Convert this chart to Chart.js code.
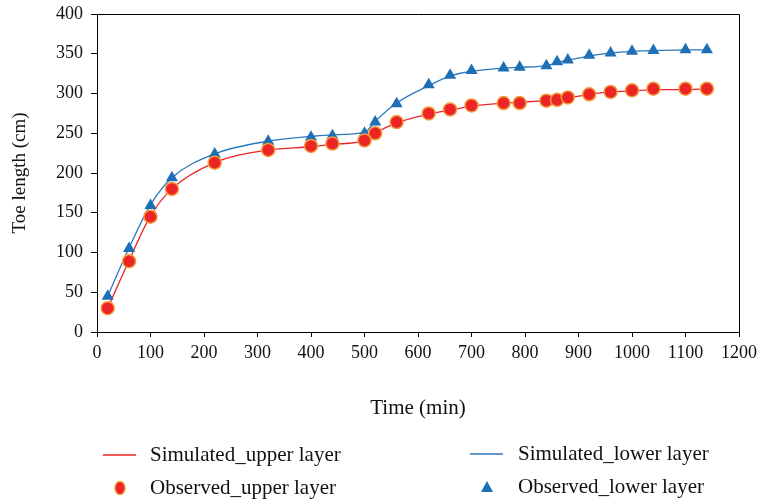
<!DOCTYPE html>
<html><head><meta charset="utf-8">
<script src="https://cdn.jsdelivr.net/npm/chart.js@4"></script>
<style>html,body{margin:0;padding:0;background:#fff}#wrap{width:762px;height:502px;position:relative}</style>
</head><body><div id="wrap"><canvas id="c" width="762" height="502" style="width:762px;height:502px"></canvas></div>
<script>
// ---- data ----
const timeMin = [20,60,100,140,220,320,400,440,500,520,560,620,660,700,760,790,840,860,880,920,960,1000,1040,1100,1140];
const observedUpper = [30,89,145,180,213,229,234,237,241,250,264,275,280,285,288,288,291,292,295,299,302,304,306,306,306];
const simulatedUpper = [30,90,146,180,213,229,233,236,241,250,263,274,279,284,288,289,291,292,294,299,302,303,305,305,306];
const observedLower = [45,105,159,194,224,240,245,247,250,264,287,311,323,329,332,333,335,340,342,348,351,353,354,355,355];
const simulatedLower = [45,106,160,194,224,240,246,248,251,265,288,310,322,328,332,333,335,339,342,347,351,353,354,355,355];
const xTicks = [0,100,200,300,400,500,600,700,800,900,1000,1100,1200];
const yTicks = [0,50,100,150,200,250,300,350,400];
const labels = ['Simulated_upper layer','Observed_upper layer','Simulated_lower layer','Observed_lower layer'];

const RED = '#ec2426', ORANGE = '#f39a3a', BLUE = '#1f6fb6', BLUE_LINE = '#2a78c0';
const FONT = "'Liberation Serif', 'DejaVu Serif', serif";
const pts = (xs, ys) => xs.map((x, i) => ({x, y: ys[i]}));

const frameAndLegend = {
  id: 'frameAndLegend',
  afterDraw(chart) {
    const {ctx, chartArea: a} = chart;
    ctx.save();
    ctx.strokeStyle = '#000'; ctx.lineWidth = 1;
    ctx.beginPath();
    ctx.moveTo(Math.round(a.left) + 0.5, Math.round(a.top) + 0.5);
    ctx.lineTo(Math.round(a.right) + 0.5, Math.round(a.top) + 0.5);
    ctx.lineTo(Math.round(a.right) + 0.5, Math.round(a.bottom) + 0.5);
    ctx.stroke();
    // legend
    const ds = chart.data.datasets;
    ctx.font = "21px " + FONT;
    ctx.textBaseline = 'middle';
    const items = [
      {d: ds[0], kind: 'line', x0: 103, y: 455, tx: 150},
      {d: ds[2], kind: 'line', x0: 470, y: 454, tx: 518},
      {d: ds[1], kind: 'circle', x0: 120, y: 488, tx: 150},
      {d: ds[3], kind: 'tri', x0: 487, y: 487, tx: 518}
    ];
    items.forEach(it => {
      if (it.kind === 'line') {
        ctx.strokeStyle = it.d.borderColor; ctx.lineWidth = 1.3;
        ctx.beginPath(); ctx.moveTo(it.x0, it.y); ctx.lineTo(it.x0 + 33, it.y); ctx.stroke();
      } else if (it.kind === 'circle') {
        ctx.fillStyle = it.d.backgroundColor; ctx.strokeStyle = it.d.borderColor; ctx.lineWidth = 1.5;
        ctx.beginPath(); ctx.ellipse(it.x0, it.y, 5, 6.5, 0, 0, Math.PI * 2); ctx.fill(); ctx.stroke();
      } else {
        ctx.fillStyle = it.d.backgroundColor;
        ctx.beginPath(); ctx.moveTo(it.x0, it.y - 6); ctx.lineTo(it.x0 + 6, it.y + 5); ctx.lineTo(it.x0 - 6, it.y + 5); ctx.closePath(); ctx.fill();
      }
      ctx.fillStyle = '#111';
      ctx.fillText(it.d.label, it.tx, it.y);
    });
    ctx.restore();
  }
};

new Chart(document.getElementById('c'), {
  type: 'scatter',
  data: {
    datasets: [
      {label: labels[0], type: 'line', data: pts(timeMin, simulatedUpper), borderColor: RED, borderWidth: 1.3,
       pointRadius: 0, cubicInterpolationMode: 'monotone', fill: false, order: 4},
      {label: labels[1], data: pts(timeMin, observedUpper), backgroundColor: RED, borderColor: ORANGE, borderWidth: 1.5,
       pointRadius: 6.5, pointStyle: 'circle', showLine: false, order: 1},
      {label: labels[2], type: 'line', data: pts(timeMin, simulatedLower), borderColor: BLUE_LINE, borderWidth: 1.3,
       pointRadius: 0, cubicInterpolationMode: 'monotone', fill: false, order: 3},
      {label: labels[3], data: pts(timeMin, observedLower), backgroundColor: BLUE, borderColor: BLUE, borderWidth: 0,
       pointRadius: 7, pointStyle: 'triangle', showLine: false, order: 2}
    ]
  },
  options: {
    responsive: false, maintainAspectRatio: false, animation: false, devicePixelRatio: 1,
    layout: {padding: {top: 14, right: 23, bottom: 0, left: 0}},
    plugins: {legend: {display: false}, tooltip: {enabled: false}},
    scales: {
      x: {
        type: 'linear', min: 0, max: 1200,
        afterBuildTicks: s => { s.ticks = xTicks.map(v => ({value: v})); },
        afterFit: s => { s.height = 170; s.paddingLeft = 0; s.paddingRight = 0; },
        grid: {drawOnChartArea: false, drawTicks: true, tickLength: 5, tickColor: '#000'},
        border: {display: true, color: '#000', width: 1},
        ticks: {color: '#111', font: {family: FONT, size: 18}, padding: 5, maxRotation: 0, autoSkip: false,
                callback: v => String(v)},
        title: {display: true, text: 'Time (min)', color: '#111', font: {family: FONT, size: 21}, padding: {top: 0, bottom: 81}}
      },
      y: {
        type: 'linear', min: 0, max: 400,
        afterBuildTicks: s => { s.ticks = yTicks.map(v => ({value: v})); },
        afterFit: s => { s.width = 97; s.paddingTop = 0; s.paddingBottom = 0; },
        grid: {drawOnChartArea: false, drawTicks: true, tickLength: 6, tickColor: '#000'},
        border: {display: true, color: '#000', width: 1},
        ticks: {color: '#111', font: {family: FONT, size: 18}, padding: 8, autoSkip: false, callback: v => String(v)},
        title: {display: true, text: 'Toe length (cm)', color: '#111', font: {family: FONT, size: 19}, padding: {top: 9, bottom: 0}}
      }
    }
  },
  plugins: [frameAndLegend]
});
</script></body></html>
